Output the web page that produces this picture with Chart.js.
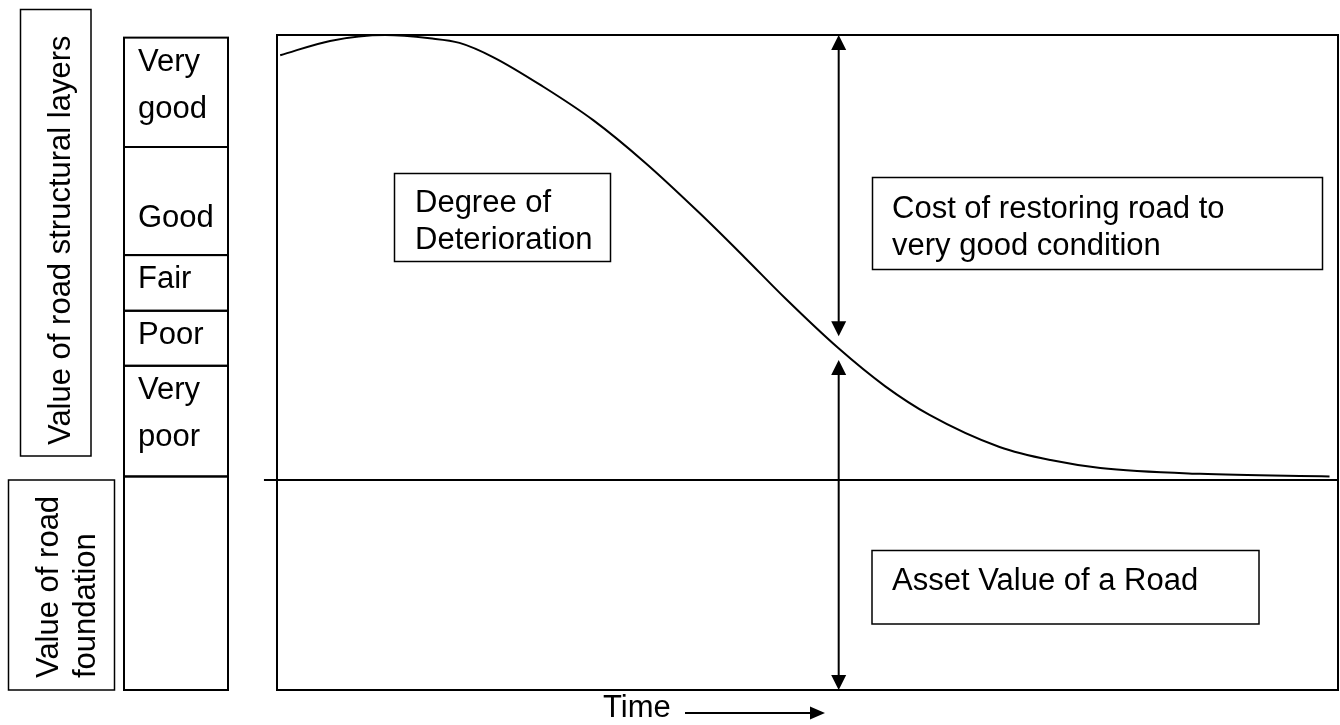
<!DOCTYPE html>
<html>
<head>
<meta charset="utf-8">
<script src="https://cdn.jsdelivr.net/npm/chart.js@4/dist/chart.umd.min.js"></script>
<style>
  body { margin: 0; background: #fff; }
  #wrap { width: 1340px; height: 725px; }
</style>
</head>
<body>
<div id="wrap"><canvas id="myChart" width="1340" height="725"></canvas></div>
<script>
// road condition over time (x = time 0..100, y = value 0..100)
const timeVals = [0.3, 5.0, 10.2, 14.4, 17.2, 20.4, 25.1, 29.8, 34.7, 39.9, 44.1, 47.9, 52.9, 57.3, 61.5, 68.1, 72.9, 77.6, 87.0, 99.2];
const condVals = [96.9, 99.1, 100, 99.5, 98.8, 96.6, 92.1, 87.0, 80.5, 72.7, 66.0, 59.8, 52.2, 46.4, 42.0, 37.1, 35.1, 33.9, 33.0, 32.6];

// value of the foundation (horizontal line)
const foundationVal = 32.06;
const foundationX = [-1.23, 100];

// condition bands on the left column (top edge of each band)
const bandNames = [['Very', 'good'], ['', 'Good'], ['Fair'], ['Poor'], ['Very', 'poor'], []];
const bandEdges = [99.6, 82.9, 66.4, 57.9, 49.5, 32.6, 0];

// the two double arrows
const arrowX = 52.94;
const arrowFrom = [100, 50.4];
const arrowTo = [54.0, 0];

const FONT = '31px "Liberation Sans", Arial, sans-serif';

function arrowHead(ctx, x, tipY, dir) {
  // dir = -1 points up, 1 points down
  ctx.beginPath();
  ctx.moveTo(x, tipY);
  ctx.lineTo(x - 7.5, tipY - dir * 15);
  ctx.lineTo(x + 7.5, tipY - dir * 15);
  ctx.closePath();
  ctx.fill();
}

function textBox(ctx, x, y, w, h, lines, tx, ty, lh) {
  ctx.lineWidth = 1.5;
  ctx.strokeRect(x, y, w, h);
  lines.forEach((l, i) => ctx.fillText(l, tx, ty + i * lh));
}

const diagram = {
  id: 'diagram',
  afterDatasetsDraw(chart) {
    const ctx = chart.ctx;
    const a = chart.chartArea;
    const xs = chart.scales.x;
    const ys = chart.scales.y;
    ctx.save();
    ctx.strokeStyle = '#000';
    ctx.fillStyle = '#000';
    ctx.font = FONT;
    ctx.textBaseline = 'alphabetic';

    // main frame
    ctx.lineWidth = 2;
    ctx.strokeRect(a.left, a.top, a.right - a.left, a.bottom - a.top);

    // double arrows
    const ax = xs.getPixelForValue(arrowX);
    ctx.lineWidth = 2;
    for (let i = 0; i < arrowFrom.length; i++) {
      const y1 = ys.getPixelForValue(arrowFrom[i]);
      const y2 = ys.getPixelForValue(arrowTo[i]);
      ctx.beginPath();
      ctx.moveTo(ax, y1 + 10);
      ctx.lineTo(ax, y2 - 10);
      ctx.stroke();
      arrowHead(ctx, ax, y1, -1);
      arrowHead(ctx, ax, y2, 1);
    }

    // condition column
    ctx.lineWidth = 2;
    const cl = 124, cr = 228;
    for (let i = 0; i < bandNames.length; i++) {
      const top = ys.getPixelForValue(bandEdges[i]);
      const bot = ys.getPixelForValue(bandEdges[i + 1]);
      ctx.strokeRect(cl, top, cr - cl, bot - top);
      bandNames[i].forEach((t, j) => ctx.fillText(t, 138, top + 33 + j * 47));
    }

    // rotated labels on the far left
    ctx.lineWidth = 1.5;
    ctx.strokeRect(20.5, 9.5, 70.5, 446.5);
    ctx.strokeRect(8.5, 480, 106, 210);
    ctx.save();
    ctx.translate(70, 445);
    ctx.rotate(-Math.PI / 2);
    ctx.fillText('Value of road structural layers', 0, 0);
    ctx.restore();
    ctx.save();
    ctx.translate(58, 678);
    ctx.rotate(-Math.PI / 2);
    ctx.fillText('Value of road', 0, 0);
    ctx.fillText('foundation', 0, 37);
    ctx.restore();

    // text boxes in the chart
    textBox(ctx, 394.5, 173.5, 216, 88, ['Degree of', 'Deterioration'], 415, 212, 36.5);
    textBox(ctx, 872.5, 177.5, 450, 92, ['Cost of restoring road to', 'very good condition'], 892, 218, 36.5);
    textBox(ctx, 872, 550.5, 387, 73.5, ['Asset Value of a Road'], 892, 590, 36.5);

    // time label with arrow
    ctx.fillText('Time', 603, 717);
    ctx.lineWidth = 2;
    ctx.beginPath();
    ctx.moveTo(685, 713);
    ctx.lineTo(812, 713);
    ctx.stroke();
    ctx.beginPath();
    ctx.moveTo(825, 713);
    ctx.lineTo(810, 706.5);
    ctx.lineTo(810, 719.5);
    ctx.closePath();
    ctx.fill();
    ctx.restore();
  }
};

const ctx = document.getElementById('myChart').getContext('2d');
const myChart = new Chart(ctx, {
  type: 'line',
  data: {
    datasets: [{
      label: 'Condition',
      data: timeVals.map((t, i) => ({x: t, y: condVals[i]})),
      borderColor: '#000',
      borderWidth: 2,
      pointRadius: 0,
      cubicInterpolationMode: 'monotone',
      fill: false
    }, {
      label: 'Foundation',
      data: foundationX.map(t => ({x: t, y: foundationVal})),
      borderColor: '#000',
      borderWidth: 2,
      pointRadius: 0,
      clip: false,
      fill: false
    }]
  },
  options: {
    responsive: false,
    animation: false,
    layout: {padding: {left: 277, top: 35, right: 2, bottom: 35}},
    plugins: {legend: {display: false}, tooltip: {enabled: false}},
    scales: {
      x: {type: 'linear', min: 0, max: 100, display: false},
      y: {min: 0, max: 100, display: false}
    }
  },
  plugins: [diagram]
});
</script>
</body>
</html>
